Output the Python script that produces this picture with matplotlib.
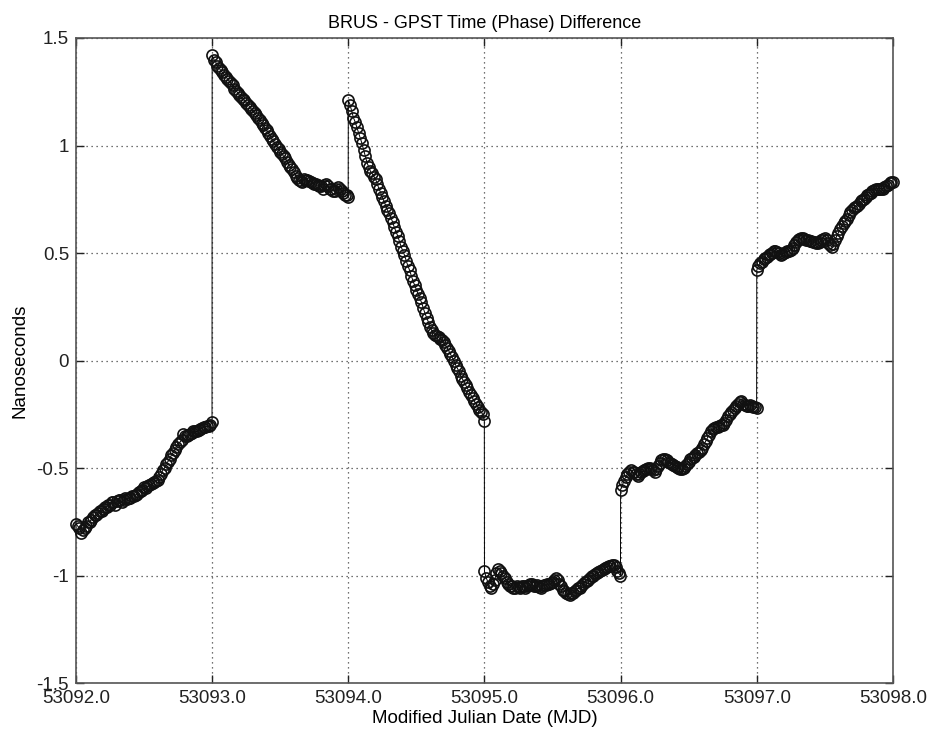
import matplotlib
matplotlib.use('Agg')
import matplotlib.pyplot as plt
from matplotlib.ticker import FuncFormatter

plt.rcParams['font.family'] = ['Liberation Sans', 'DejaVu Sans']
plt.rcParams['axes.unicode_minus'] = False

# sample times within each day (fraction of day)
day_offsets = [0.0000, 0.0125, 0.0250, 0.0375, 0.0500, 0.0625, 0.0750, 0.0875, 0.1000, 0.1125,
               0.1250, 0.1375, 0.1500, 0.1625, 0.1750, 0.1875, 0.2000, 0.2125, 0.2250, 0.2375,
               0.2500, 0.2625, 0.2750, 0.2875, 0.3000, 0.3125, 0.3250, 0.3375, 0.3500, 0.3625,
               0.3750, 0.3875, 0.4000, 0.4125, 0.4250, 0.4375, 0.4500, 0.4625, 0.4750, 0.4875,
               0.5000, 0.5125, 0.5250, 0.5375, 0.5500, 0.5625, 0.5750, 0.5875, 0.6000, 0.6125,
               0.6250, 0.6375, 0.6500, 0.6625, 0.6750, 0.6875, 0.7000, 0.7125, 0.7250, 0.7375,
               0.7500, 0.7625, 0.7750, 0.7875, 0.8000, 0.8125, 0.8250, 0.8375, 0.8500, 0.8625,
               0.8750, 0.8875, 0.9000, 0.9125, 0.9250, 0.9375, 0.9500, 0.9625, 0.9750, 0.9875,
               0.9990]

days = [53092, 53093, 53094, 53095, 53096, 53097]

# BRUS - GPST difference in ns, one list per day
ns_53092 = [-0.76, -0.77, -0.78, -0.80, -0.79, -0.78, -0.77, -0.75, -0.75, -0.74,
            -0.73, -0.72, -0.72, -0.71, -0.70, -0.70, -0.69, -0.68, -0.68, -0.67,
            -0.67, -0.66, -0.66, -0.67, -0.655, -0.65, -0.65, -0.66, -0.65, -0.64,
            -0.645, -0.64, -0.64, -0.63, -0.63, -0.625, -0.62, -0.61, -0.605, -0.60,
            -0.59, -0.595, -0.585, -0.58, -0.575, -0.57, -0.565, -0.56, -0.555, -0.54,
            -0.53, -0.51, -0.50, -0.48, -0.47, -0.46, -0.44, -0.43, -0.415, -0.40,
            -0.39, -0.38, -0.37, -0.34, -0.35, -0.35, -0.345, -0.34, -0.335, -0.33,
            -0.33, -0.33, -0.325, -0.32, -0.315, -0.31, -0.31, -0.305, -0.305, -0.30,
            -0.285]
ns_53093 = [1.42, 1.40, 1.39, 1.37, 1.36, 1.35, 1.34, 1.33, 1.32, 1.31,
            1.30, 1.29, 1.28, 1.265, 1.255, 1.245, 1.235, 1.225, 1.215, 1.21,
            1.20, 1.19, 1.18, 1.17, 1.16, 1.15, 1.14, 1.13, 1.12, 1.105,
            1.095, 1.08, 1.07, 1.06, 1.045, 1.03, 1.02, 1.005, 0.995, 0.985,
            0.97, 0.96, 0.95, 0.94, 0.925, 0.91, 0.90, 0.89, 0.875, 0.86,
            0.85, 0.84, 0.835, 0.83, 0.845, 0.84, 0.84, 0.835, 0.83, 0.825,
            0.82, 0.82, 0.815, 0.81, 0.81, 0.80, 0.815, 0.82, 0.81, 0.80,
            0.80, 0.79, 0.79, 0.80, 0.805, 0.80, 0.79, 0.78, 0.77, 0.77,
            0.76]
ns_53094 = [1.21, 1.19, 1.16, 1.13, 1.11, 1.085, 1.06, 1.035, 1.01, 0.98,
            0.95, 0.92, 0.90, 0.88, 0.87, 0.855, 0.845, 0.82, 0.80, 0.78,
            0.76, 0.74, 0.72, 0.70, 0.685, 0.665, 0.645, 0.62, 0.60, 0.58,
            0.555, 0.53, 0.51, 0.49, 0.465, 0.44, 0.42, 0.395, 0.37, 0.35,
            0.33, 0.31, 0.29, 0.27, 0.245, 0.22, 0.20, 0.18, 0.155, 0.14,
            0.13, 0.12, 0.115, 0.11, 0.10, 0.095, 0.085, 0.07, 0.06, 0.045,
            0.03, 0.015, 0.00, -0.02, -0.035, -0.05, -0.07, -0.085, -0.10, -0.115,
            -0.13, -0.145, -0.16, -0.175, -0.19, -0.20, -0.215, -0.23, -0.24, -0.25,
            -0.28]
ns_53095 = [-0.98, -1.01, -1.03, -1.05, -1.06, -1.04, -1.02, -0.99, -0.97, -0.98,
            -0.99, -1.00, -1.01, -1.03, -1.04, -1.05, -1.05, -1.06, -1.06, -1.05,
            -1.055, -1.06, -1.05, -1.05, -1.06, -1.05, -1.045, -1.04, -1.04, -1.05,
            -1.05, -1.045, -1.055, -1.06, -1.05, -1.045, -1.045, -1.04, -1.04, -1.035,
            -1.03, -1.02, -1.01, -1.02, -1.04, -1.05, -1.065, -1.07, -1.08, -1.085,
            -1.09, -1.08, -1.08, -1.07, -1.065, -1.06, -1.06, -1.05, -1.04, -1.03,
            -1.025, -1.02, -1.01, -1.00, -1.00, -0.995, -0.99, -0.985, -0.98, -0.975,
            -0.97, -0.965, -0.96, -0.955, -0.955, -0.95, -0.95, -0.96, -0.98, -0.99,
            -1.00]
ns_53096 = [-0.60, -0.58, -0.56, -0.54, -0.53, -0.52, -0.51, -0.52, -0.52, -0.53,
            -0.535, -0.53, -0.52, -0.515, -0.51, -0.505, -0.50, -0.50, -0.505, -0.51,
            -0.52, -0.505, -0.49, -0.475, -0.465, -0.46, -0.46, -0.465, -0.47, -0.475,
            -0.48, -0.485, -0.49, -0.495, -0.50, -0.505, -0.505, -0.50, -0.49, -0.48,
            -0.47, -0.46, -0.455, -0.45, -0.44, -0.43, -0.425, -0.415, -0.405, -0.39,
            -0.375, -0.36, -0.345, -0.33, -0.32, -0.315, -0.31, -0.31, -0.305, -0.30,
            -0.30, -0.29, -0.275, -0.26, -0.25, -0.24, -0.23, -0.22, -0.21, -0.20,
            -0.195, -0.19, -0.20, -0.205, -0.21, -0.21, -0.205, -0.21, -0.215, -0.215,
            -0.22]
ns_53097 = [0.42, 0.44, 0.455, 0.46, 0.47, 0.475, 0.48, 0.49, 0.495, 0.50,
            0.51, 0.51, 0.505, 0.50, 0.49, 0.495, 0.50, 0.505, 0.51, 0.51,
            0.515, 0.525, 0.535, 0.55, 0.56, 0.565, 0.57, 0.57, 0.565, 0.56,
            0.56, 0.555, 0.555, 0.55, 0.55, 0.545, 0.545, 0.55, 0.56, 0.565,
            0.57, 0.56, 0.545, 0.535, 0.53, 0.54, 0.56, 0.58, 0.595, 0.61,
            0.625, 0.64, 0.65, 0.66, 0.675, 0.69, 0.70, 0.71, 0.715, 0.72,
            0.73, 0.74, 0.745, 0.75, 0.76, 0.77, 0.775, 0.78, 0.79, 0.795,
            0.80, 0.80, 0.80, 0.80, 0.80, 0.805, 0.81, 0.815, 0.825, 0.83,
            0.83]

series = [ns_53092, ns_53093, ns_53094, ns_53095, ns_53096, ns_53097]

mjd = []
ns = []
for d, vals in zip(days, series):
    assert len(vals) == len(day_offsets)
    for off, v in zip(day_offsets, vals):
        mjd.append(d + off)
        ns.append(v)

xticks = [53092, 53093, 53094, 53095, 53096, 53097, 53098]
yticks = [-1.5, -1, -0.5, 0, 0.5, 1, 1.5]

fig = plt.figure(figsize=(9.28, 7.35), dpi=100)
ax = fig.add_axes([0.0819, 0.0707, 0.8803, 0.8776])

ax.plot(mjd, ns, color='black', linewidth=0.7, marker='o', markersize=8,
        markerfacecolor='none', markeredgecolor='#111111', markeredgewidth=1.2,
        clip_on=False, zorder=3)

ax.set_xlim(53092, 53098)
ax.set_ylim(-1.5, 1.5)
ax.set_xticks(xticks)
ax.set_yticks(yticks)
ax.xaxis.set_major_formatter(FuncFormatter(lambda v, p: '%.1f' % v))
ax.yaxis.set_major_formatter(FuncFormatter(lambda v, p: '%g' % v))

ax.grid(True, linestyle=(0, (1, 3)), color='#444444', linewidth=0.9)
ax.tick_params(direction='in', length=6, width=1, top=True, right=True,
               labelsize=13.5, colors='#222222', pad=5)
for s in ax.spines.values():
    s.set_color('#555555')
    s.set_linewidth(1.2)

ax.set_title('BRUS - GPST Time (Phase) Difference', fontsize=13, pad=7)
ax.set_xlabel('Modified Julian Date (MJD)', fontsize=13.5, labelpad=2)
ax.set_ylabel('Nanoseconds', fontsize=13.5, labelpad=6)

fig.savefig('out.png', dpi=100)
